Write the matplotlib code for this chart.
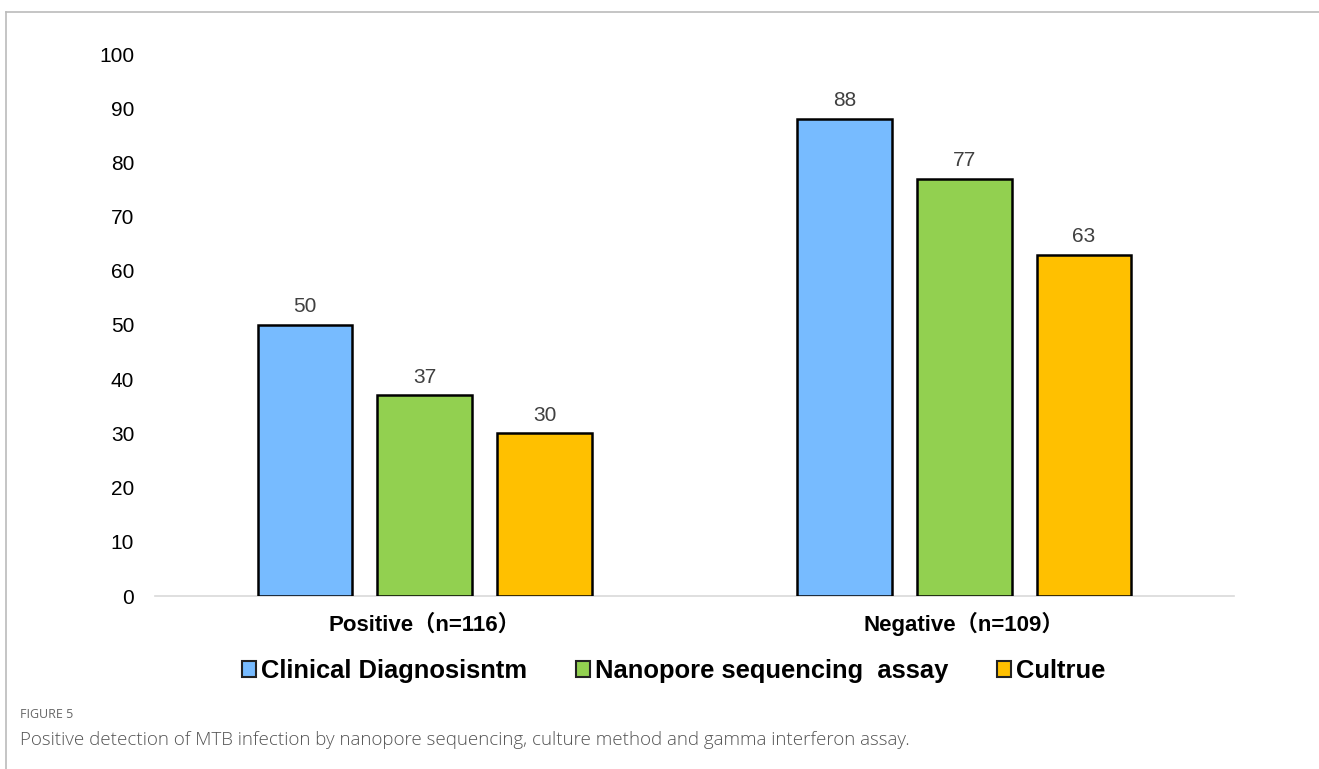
import matplotlib
matplotlib.use("Agg")
import matplotlib.pyplot as plt
from matplotlib.patches import Patch
from matplotlib.lines import Line2D
from matplotlib.transforms import blended_transform_factory
import numpy as np

categories = ["Positive（n=116）", "Negative（n=109）"]
series_names = ["Clinical Diagnosisntm", "Nanopore sequencing  assay", "Cultrue"]
clinical = [50, 88]
nanopore = [37, 77]
culture = [30, 63]
series_values = [clinical, nanopore, culture]
colors = ["#77BBFF", "#92D050", "#FFC000"]
yticks = [0, 10, 20, 30, 40, 50, 60, 70, 80, 90, 100]

W, H = 1319, 769
fig = plt.figure(figsize=(W / 100, H / 100), dpi=100)
fam = ["Liberation Sans", "Noto Sans CJK SC", "DejaVu Sans"]

ax = fig.add_axes([155 / W, 1 - 596 / H, (1234 - 155) / W, (596 - 54) / H])
x = np.arange(len(categories))
bw = 0.176
step = 0.222
for i, (vals, c, name) in enumerate(zip(series_values, colors, series_names)):
    xs = x + (i - 1) * step
    ax.bar(xs, vals, width=bw, color=c, edgecolor="black", linewidth=1.8,
           label=name, zorder=3)
    for xi, v in zip(xs, vals):
        ax.text(xi, v + 1.6, str(v), ha="center", va="bottom", fontsize=15,
                color="#404040", family=fam)

ax.set_xlim(-0.5, 1.5)
ax.set_ylim(0, 100)
ax.set_yticks(yticks)
ax.set_yticklabels([str(t) for t in yticks], fontsize=15, family=fam, color="#000000")
ax.set_xticks(x)
ax.set_xticklabels([])
ax.tick_params(axis="y", length=0, pad=15)
ax.tick_params(axis="x", length=0)
for s in ["top", "right", "left"]:
    ax.spines[s].set_visible(False)
ax.spines["bottom"].set_color("#D9D9D9")
ax.spines["bottom"].set_linewidth(1.2)
ax.spines["bottom"].set_zorder(2)

# category labels with common baseline
tr = blended_transform_factory(ax.transData, fig.transFigure)
for xi, lab in zip(x, categories):
    ax.text(xi, 1 - 631 / H, lab, transform=tr, ha="center", va="baseline",
            fontsize=16, fontweight="bold", family=fam, color="black")

handles = [Patch(facecolor=c, edgecolor="#222222", linewidth=1.5) for c in colors]
fig.legend(handles, series_names, loc="center", bbox_to_anchor=(0.511, 1 - 671 / H),
           ncol=3, frameon=False, prop={"family": fam, "weight": "bold", "size": 18.4},
           handlelength=0.55, handleheight=0.55, handletextpad=0.2,
           columnspacing=1.9)

# figure frame lines
fig.add_artist(Line2D([6 / W, 1], [1 - 12 / H, 1 - 12 / H], color="#BBBBBB", linewidth=1.2,
                      transform=fig.transFigure))
fig.add_artist(Line2D([6 / W, 6 / W], [0, 1 - 12 / H], color="#BBBBBB", linewidth=1.2,
                      transform=fig.transFigure))

cap_fam = ["Open Sans", "DejaVu Sans"]
fig.text(20 / W, 1 - 714 / H, "FIGURE 5", fontsize=9, color="#666666", family=cap_fam,
         va="center", ha="left")
fig.text(20 / W, 1 - 740 / H,
         "Positive detection of MTB infection by nanopore sequencing, culture method and gamma interferon assay.",
         fontsize=13.5, color="#555555", family=cap_fam, va="center", ha="left", fontweight="light")

fig.savefig("out.png", dpi=100)
